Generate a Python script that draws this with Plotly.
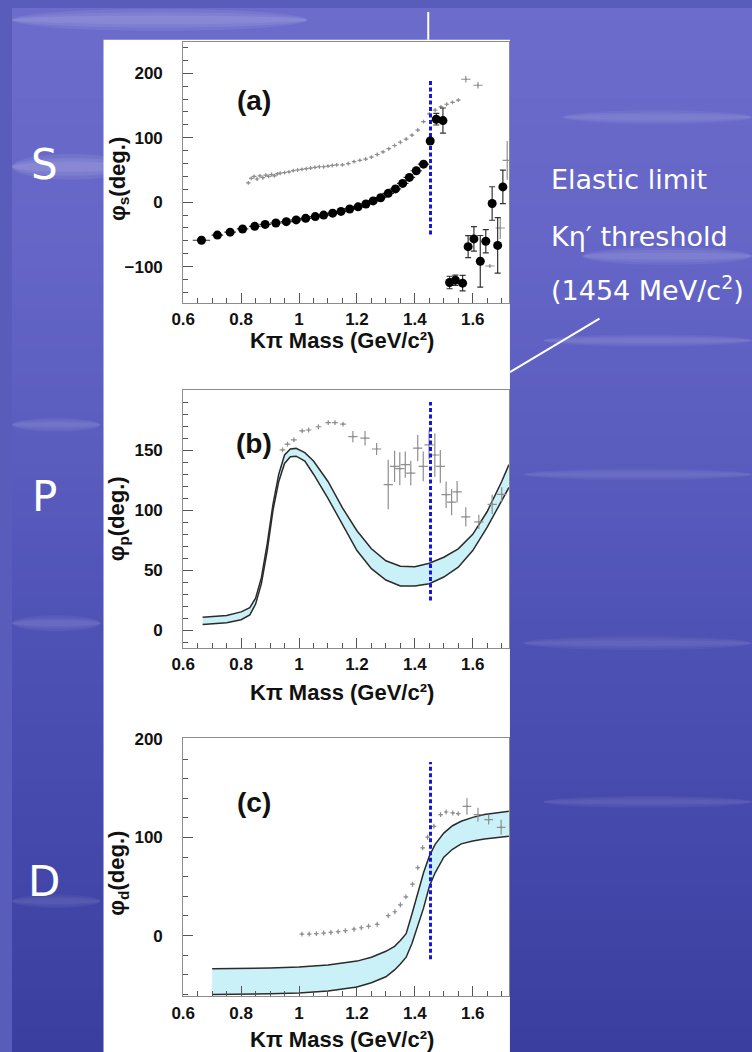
import plotly.graph_objects as go

W, H = 752, 1052

# ---------------- data ----------------
THRESHOLD = 1.454  # K eta' threshold, GeV/c^2

# (a) S-wave phase, this analysis
S_MASS = [0.663, 0.718, 0.762, 0.805, 0.847, 0.883, 0.920, 0.956, 0.990, 1.023,
          1.056, 1.085, 1.116, 1.145, 1.175, 1.204, 1.231, 1.256, 1.282, 1.308,
          1.333, 1.358, 1.381, 1.405, 1.430, 1.453, 1.474, 1.497, 1.520, 1.540,
          1.565, 1.584, 1.604, 1.626, 1.645, 1.667, 1.686, 1.704]
S_PHASE = [-59, -51, -46.5, -41.5, -37.5, -34.5, -32.3, -30.2, -27.5, -25,
           -22.3, -20, -17, -14.3, -10.5, -7.2, -2.8, 2, 7, 13.8,
           20.6, 29.2, 38.5, 48.8, 59, 95, 128.8, 126.7, -124.6, -121,
           -125.6, -69, -57, -91.7, -60.5, -2, -67, 23.7]
S_ERR = [1, 1, 1, 1, 1, 1, 1, 1, 1, 1,
         1, 1, 1, 1, 1, 1, 1, 1, 1, 1,
         1, 1, 1, 1, 1, 3, 9, 19.5, 9.7, 8,
         12, 17, 19, 40, 18, 26, 43, 26]
S_DM = [0.03, 0.02, 0.02, 0.02, 0.02, 0.02, 0.02, 0.02, 0.02, 0.02,
        0.02, 0.02, 0.02, 0.02, 0.02, 0.02, 0.02, 0.02, 0.02, 0.02,
        0.02, 0.02, 0.02, 0.02, 0.02, 0.01, 0.01, 0.01, 0.01, 0.01,
        0.01, 0.01, 0.01, 0.01, 0.01, 0.01, 0.01, 0.01]

# (a) S-wave phase, LASS
LASS_S_MASS = [0.825, 0.835, 0.845, 0.855, 0.865, 0.875, 0.885, 0.895, 0.905, 0.915,
               0.925, 0.935, 0.950, 0.965, 0.980, 0.995, 1.010, 1.025, 1.040, 1.055,
               1.070, 1.085, 1.100, 1.115, 1.130, 1.150, 1.170, 1.190, 1.210, 1.230,
               1.250, 1.270, 1.290, 1.310, 1.330, 1.350, 1.370, 1.390, 1.410, 1.430,
               1.450, 1.470, 1.490, 1.510, 1.530, 1.550,
               1.576, 1.618, 1.659, 1.695, 1.719]
LASS_S_PHASE = [30, 37, 40, 36, 41, 38, 42, 40, 43, 41,
                44, 45, 46, 47, 49, 50, 51, 52, 53, 54,
                55, 55, 56, 57, 58, 58, 60, 63, 65, 67,
                70, 74, 78, 83, 88, 93, 98, 104, 112, 125,
                137, 143, 148, 152, 155, 158.5,
                190.8, 181.5, -99, -40, 65]
LASS_S_ERR = [3] * 46 + [5, 5, 3, 17, 30]
LASS_S_DM = [0.008] * 46 + [0.016, 0.016, 0.016, 0.016, 0.016]

# (b) P-wave phase band
P_BAND_MASS = [0.667, 0.70, 0.75, 0.80, 0.83, 0.85, 0.87, 0.89, 0.91, 0.93,
               0.95, 0.97, 0.99, 1.02, 1.05, 1.10, 1.15, 1.20, 1.25, 1.30,
               1.35, 1.40, 1.45, 1.50, 1.55, 1.60, 1.65, 1.70, 1.725]
P_BAND_HI = [11, 11.5, 12.5, 15.5, 19, 27, 44, 72, 105, 130,
             146, 151, 151.5, 148, 141, 124, 102, 83, 68, 58,
             53.5, 53, 56, 61, 68, 80, 99, 124, 138]
P_BAND_LO = [5, 5.5, 6.5, 9, 13, 22, 39, 66, 100, 124,
             139, 144.5, 145, 141, 130, 110, 88.5, 66.5, 51.5, 42,
             37, 37, 39, 44.5, 52.7, 66.5, 86, 108, 119]

# (b) P-wave phase, LASS
LASS_P_MASS = [0.943, 0.960, 0.982, 1.011, 1.033, 1.067, 1.101, 1.124, 1.152, 1.186,
               1.228, 1.268, 1.308, 1.330, 1.348, 1.367, 1.386, 1.410, 1.429, 1.449,
               1.469, 1.488, 1.508, 1.527, 1.546, 1.576, 1.621, 1.667, 1.700]
LASS_P_PHASE = [150.3, 155, 158.5, 166, 166.8, 169.5, 173, 173, 171.7, 161.3,
                160, 151, 121.4, 136.5, 134.6, 138, 131, 151.7, 136.5, 154.4,
                146, 136.5, 113, 106.8, 115.4, 94.5, 90.4, 105, 113.2]
LASS_P_ERR = [2] * 9 + [4.7, 6, 5, 20.6, 13, 13.7, 11, 10.3, 11, 12.4, 12,
                        18, 13.7, 11, 11, 9, 8, 6, 8, 6]
LASS_P_DM = [0.01] * 9 + [0.016] * 20

# (c) D-wave phase band
D_BAND_MASS = [0.70, 0.80, 0.90, 1.00, 1.10, 1.20, 1.25, 1.30, 1.33, 1.35,
               1.37, 1.39, 1.41, 1.43, 1.45, 1.47, 1.50, 1.53, 1.56, 1.60,
               1.64, 1.68, 1.725]
D_BAND_HI = [-33.8, -33.5, -33, -32, -30, -26, -22, -16, -11, -5,
             2, 22, 44, 64, 81, 93, 104.5, 112, 116.5, 120.5,
             123.5, 125.3, 126.7]
D_BAND_LO = [-60, -59.8, -59.3, -58.4, -56.5, -52.4, -48, -42, -35, -29,
             -22, -8, 10, 28, 50, 64, 80, 88, 93.5, 96.5,
             98.5, 100, 101.3]

# (c) D-wave phase, LASS
LASS_D_MASS = [1.010, 1.035, 1.060, 1.085, 1.110, 1.135, 1.160, 1.190, 1.215, 1.240,
               1.270, 1.308, 1.331, 1.350, 1.369, 1.392, 1.410, 1.427, 1.444, 1.466,
               1.489, 1.508, 1.531, 1.550, 1.580, 1.618, 1.655, 1.698]
LASS_D_PHASE = [1.5, 1.6, 2, 2.6, 3.2, 4, 5, 6.5, 8, 9.5,
                11.5, 20.3, 24.3, 31.4, 39.5, 52.4, 69.2, 89.5, 100.3, 111.4,
                123.3, 126, 125, 124.3, 131.7, 123.3, 118.2, 110.4]
LASS_D_ERR = [2.5] * 24 + [8.4, 7, 5, 7.6]
LASS_D_DM = [0.008] * 24 + [0.015] * 4

# threshold marker extents (deg) per panel
THR_SPAN_A = [-50, 190]
THR_SPAN_B = [25, 190]
THR_SPAN_C = [-24, 177]

X_TICKS = [0.6, 0.8, 1.0, 1.2, 1.4, 1.6]
X_TICKTEXT = ["0.6", "0.8", "1", "1.2", "1.4", "1.6"]
YA_TICKS = [-100, 0, 100, 200]
YB_TICKS = [0, 50, 100, 150]
YC_TICKS = [0, 100, 200]

PANEL_LABELS = ["(a)", "(b)", "(c)"]
Y_TITLES = ["φ<sub>s</sub>(deg.)", "φ<sub>p</sub>(deg.)", "φ<sub>d</sub>(deg.)"]
X_TITLE = "Kπ Mass (GeV/c²)"
WAVE_NAMES = ["S", "P", "D"]
SIDE_NOTES = ["Elastic limit", "Kη′ threshold", "(1454 MeV/c<sup>2</sup>)"]

# ---------------- helpers ----------------
def fx(px):
    return px / W

def fy(py):
    return 1 - py / H

GRAY = "#8f8f8f"
BAND_FILL = "#c9f1f7"
BAND_LINE = "#2b2b2b"
THR_BLUE = "#1616dc"
TICK_FONT = dict(family="Liberation Sans", size=17, color="#111", weight="bold")

fig = go.Figure()

# ---------------- background ----------------
grad = [(0, (108, 108, 204)), (250, (100, 101, 198)), (450, (90, 92, 190)),
        (650, (78, 81, 180)), (850, (68, 72, 170)), (1052, (58, 62, 158))]
shapes = []
nb = 80
for i in range(nb):
    y0 = i * H / nb
    y1 = (i + 1) * H / nb + 1
    ym = (y0 + y1) / 2
    for j in range(len(grad) - 1):
        if grad[j][0] <= ym <= grad[j + 1][0]:
            t = (ym - grad[j][0]) / (grad[j + 1][0] - grad[j][0])
            c = [round(grad[j][1][k] + t * (grad[j + 1][1][k] - grad[j][1][k])) for k in range(3)]
            break
    shapes.append(dict(type="rect", xref="paper", yref="paper", layer="below",
                       x0=0, x1=1, y0=fy(y1), y1=fy(y0), line=dict(width=0),
                       fillcolor=f"rgb({c[0]},{c[1]},{c[2]})"))

# soft light streaks of the slide background (stacked for a blurred edge)
streaks = [(0, 12, 300, 22, 0.07), (0, 160, 120, 26, 0.08), (560, 110, 752, 14, 0.05),
           (580, 250, 752, 18, 0.06), (540, 335, 752, 12, 0.05), (0, 420, 90, 14, 0.05),
           (520, 470, 752, 12, 0.04), (0, 620, 90, 16, 0.05), (520, 640, 752, 14, 0.04),
           (540, 800, 752, 12, 0.04), (0, 900, 90, 14, 0.04)]
for x0, yc, x1, h, a in streaks:
    for k in range(3):
        s = 1 - 0.3 * k
        shapes.append(dict(type="circle", xref="paper", yref="paper", layer="below",
                           x0=fx(x0), x1=fx(x1), y0=fy(yc + h * s / 2), y1=fy(yc - h * s / 2),
                           line=dict(width=0), fillcolor=f"rgba(255,255,255,{a})"))

# white figure panel
shapes.append(dict(type="rect", xref="paper", yref="paper", layer="below",
                   x0=fx(93), x1=fx(506), y0=0, y1=fy(32),
                   line=dict(width=0), fillcolor="white"))
# callout lines
shapes.append(dict(type="line", xref="paper", yref="paper", x0=fx(423), x1=fx(423),
                   y0=fy(4), y1=fy(32), line=dict(color="white", width=2)))
shapes.append(dict(type="line", xref="paper", yref="paper", x0=fx(506), x1=fx(597),
                   y0=fy(367), y1=fy(313), line=dict(color="white", width=2)))

# ---------------- traces ----------------
def band(x, lo, hi, xa, ya):
    fig.add_trace(go.Scatter(x=x, y=lo, mode="lines", line=dict(color=BAND_LINE, width=1.5),
                             xaxis=xa, yaxis=ya, showlegend=False, hoverinfo="skip"))
    fig.add_trace(go.Scatter(x=x, y=hi, mode="lines", line=dict(color=BAND_LINE, width=1.5),
                             fill="tonexty", fillcolor=BAND_FILL,
                             xaxis=xa, yaxis=ya, showlegend=False, hoverinfo="skip"))

def lass(x, y, ey, ex, xa, ya):
    fig.add_trace(go.Scatter(x=x, y=y, mode="markers",
                             marker=dict(size=2, color=GRAY),
                             error_y=dict(type="data", array=ey, color=GRAY, thickness=1.2, width=0),
                             error_x=dict(type="data", array=ex, color=GRAY, thickness=1.2, width=0),
                             xaxis=xa, yaxis=ya, showlegend=False))

def threshold(span, xa, ya):
    fig.add_trace(go.Scatter(x=[THRESHOLD, THRESHOLD], y=span, mode="lines",
                             line=dict(color=THR_BLUE, width=3, dash="4px,2.5px"),
                             xaxis=xa, yaxis=ya, showlegend=False, hoverinfo="skip"))

# (a)
lass(LASS_S_MASS, LASS_S_PHASE, LASS_S_ERR, LASS_S_DM, "x", "y")
threshold(THR_SPAN_A, "x", "y")
fig.add_trace(go.Scatter(x=S_MASS, y=S_PHASE, mode="markers",
                         marker=dict(size=9, color="black"),
                         error_y=dict(type="data", array=S_ERR, color="#333", thickness=1.2, width=3),
                         error_x=dict(type="data", array=S_DM, color="#333", thickness=1.2, width=0),
                         xaxis="x", yaxis="y", showlegend=False))
# (b)
band(P_BAND_MASS, P_BAND_LO, P_BAND_HI, "x2", "y2")
lass(LASS_P_MASS, LASS_P_PHASE, LASS_P_ERR, LASS_P_DM, "x2", "y2")
threshold(THR_SPAN_B, "x2", "y2")
# (c)
band(D_BAND_MASS, D_BAND_LO, D_BAND_HI, "x3", "y3")
lass(LASS_D_MASS, LASS_D_PHASE, LASS_D_ERR, LASS_D_DM, "x3", "y3")
threshold(THR_SPAN_C, "x3", "y3")

# ---------------- axes ----------------
X_DOM = [fx(174), fx(505)]
panels = [  # (top px, bottom px, y range, major ticks, minor step)
    (34, 297, [-156, 249], YA_TICKS, 20),
    (385, 645, [-14.6, 200], YB_TICKS, 10),
    (736, 996, [-62, 201], YC_TICKS, 20),
]

layout_axes = {}
for i, (top, bot, yr, yt, ystep) in enumerate(panels):
    sfx = "" if i == 0 else str(i + 1)
    layout_axes["xaxis" + sfx] = dict(
        domain=X_DOM, range=[0.6, 1.725], anchor="y" + sfx,
        showline=True, mirror=True, linecolor="#8c8c8c", linewidth=1,
        ticks="inside", ticklen=10, tickcolor="#555", tickwidth=1,
        tickvals=X_TICKS, ticktext=X_TICKTEXT, tickfont=TICK_FONT,
        ticklabelstandoff=1,
        minor=dict(ticks="inside", ticklen=5, tickcolor="#555", dtick=0.05, tick0=0.6),
        showgrid=False, zeroline=False, fixedrange=True)
    layout_axes["yaxis" + sfx] = dict(
        domain=[fy(bot), fy(top)], range=yr, anchor="x" + sfx,
        showline=True, mirror=True, linecolor="#8c8c8c", linewidth=1,
        ticks="inside", ticklen=10, tickcolor="#555", tickwidth=1,
        tickvals=yt, tickfont=TICK_FONT, ticklabelstandoff=16,
        minor=dict(ticks="inside", ticklen=5, tickcolor="#555", dtick=ystep, tick0=0),
        showgrid=False, zeroline=False, fixedrange=True)

# ---------------- text ----------------
ann = []
label_y = [93, 439, 801]
ytitle_y = [172, 515, 872]
xtitle_y = [335, 690, 1039]
for i in range(3):
    ann.append(dict(xref="paper", yref="paper", x=fx(246), y=fy(label_y[i]),
                    text=f"<b>{PANEL_LABELS[i]}</b>", showarrow=False,
                    xanchor="center", yanchor="middle",
                    font=dict(family="Liberation Sans", size=28, color="#111")))
    ann.append(dict(xref="paper", yref="paper", x=fx(108), y=fy(ytitle_y[i]),
                    text=f"<b>{Y_TITLES[i]}</b>", showarrow=False, textangle=-90,
                    xanchor="center", yanchor="middle",
                    font=dict(family="Liberation Sans", size=22, color="#111")))
    ann.append(dict(xref="paper", yref="paper", x=fx(335), y=fy(xtitle_y[i]),
                    text=f"<b>{X_TITLE}</b>", showarrow=False,
                    xanchor="center", yanchor="middle",
                    font=dict(family="Liberation Sans", size=22, color="#111")))

wave_y = [158, 492, 880]
for name, yy in zip(WAVE_NAMES, wave_y):
    ann.append(dict(xref="paper", yref="paper", x=fx(33), y=fy(yy), text=name,
                    showarrow=False, xanchor="center", yanchor="middle",
                    font=dict(family="DejaVu Sans", size=42, color="white")))

note_y = [173, 230, 283]
for txt, yy in zip(SIDE_NOTES, note_y):
    ann.append(dict(xref="paper", yref="paper", x=fx(546), y=fy(yy), text=txt,
                    showarrow=False, xanchor="left", yanchor="middle",
                    font=dict(family="DejaVu Sans", size=27, color="white")))

fig.update_layout(
    width=W, height=H, margin=dict(l=0, r=0, t=0, b=0),
    paper_bgcolor="rgb(90,92,188)", plot_bgcolor="rgba(0,0,0,0)",
    shapes=shapes, annotations=ann, showlegend=False,
    **layout_axes)

fig.write_html("out.html", post_script="document.body.style.margin='0px';")
